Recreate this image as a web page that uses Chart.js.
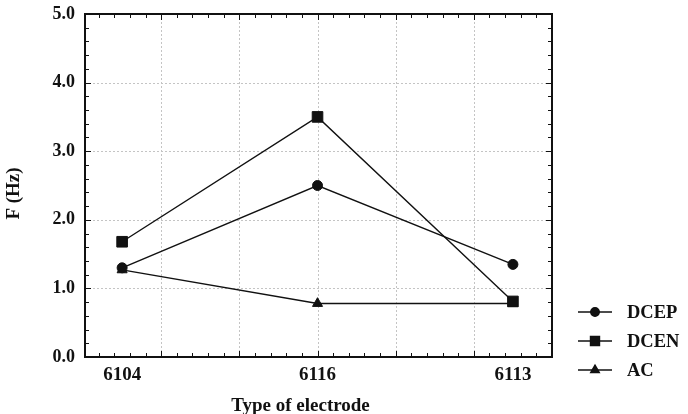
<!DOCTYPE html>
<html>
<head>
<meta charset="utf-8">
<script src="https://cdn.jsdelivr.net/npm/chart.js@4.4.0/dist/chart.umd.min.js"></script>
<style>
  html, body { margin: 0; padding: 0; background: #fff; }
  #wrap { width: 688px; height: 414px; }
</style>
</head>
<body>
<div id="wrap"><canvas id="graph"></canvas></div>
<script>
/* data */
var categories = ['6104', '6116', '6113'];
var seriesNames = ['DCEP', 'DCEN', 'AC'];
var dcep = [1.30, 2.50, 1.35];
var dcen = [1.68, 3.50, 0.81];
var ac = [1.27, 0.78, 0.78];
var yTickValues = [0, 1, 2, 3, 4, 5];
var xGridValues = [0.2, 0.6, 1.0, 1.4, 1.8];
var xTitle = 'Type of electrode';
var yTitle = 'F (Hz)';

var serif = "'Liberation Serif', 'Times New Roman', serif";
var ink = '#111';

function toPoints(values) {
	return values.map(function(v, i) {
		return { x: i, y: v };
	});
}

function makeSet(label, values, style, radius) {
	return {
		label: label,
		data: toPoints(values),
		borderColor: ink,
		backgroundColor: ink,
		borderWidth: 1.4,
		pointStyle: style,
		pointRadius: radius,
		pointHoverRadius: radius,
		pointBorderWidth: 1,
		tension: 0
	};
}

/* dotted grid, inner ticks, frame, axis titles and legend */
var framePlugin = {
	id: 'framePlugin',
	beforeDatasetsDraw: function(chart) {
		var ctx = chart.ctx, a = chart.chartArea;
		var xs = chart.scales.x, ys = chart.scales.y;
		ctx.save();
		ctx.strokeStyle = '#c4c4c4';
		ctx.lineWidth = 1;
		ctx.setLineDash([2, 2]);
		xGridValues.forEach(function(v) {
			var px = Math.round(xs.getPixelForValue(v)) + 0.5;
			ctx.beginPath(); ctx.moveTo(px, a.top); ctx.lineTo(px, a.bottom); ctx.stroke();
		});
		yTickValues.slice(1, -1).forEach(function(v) {
			var py = Math.round(ys.getPixelForValue(v)) + 0.5;
			ctx.beginPath(); ctx.moveTo(a.left, py); ctx.lineTo(a.right, py); ctx.stroke();
		});
		ctx.restore();
	},
	afterDraw: function(chart) {
		var ctx = chart.ctx, a = chart.chartArea;
		var xs = chart.scales.x, ys = chart.scales.y;
		ctx.save();
		ctx.strokeStyle = ink;
		ctx.lineWidth = 1;
		// x minor ticks, step 0.08 from 0.2
		for (var k = -10; k <= 40; k++) {
			var v = 0.2 + k * 0.08;
			if (v <= xs.min || v >= xs.max) continue;
			var px = Math.round(xs.getPixelForValue(v)) + 0.5;
			var len = (k % 5 === 0) ? 6 : 4;
			ctx.beginPath();
			ctx.moveTo(px, a.bottom); ctx.lineTo(px, a.bottom - len);
			ctx.moveTo(px, a.top); ctx.lineTo(px, a.top + len);
			ctx.stroke();
		}
		// y minor ticks, step 0.2
		for (var j = 1; j < 25; j++) {
			var py = Math.round(ys.getPixelForValue(j * 0.2)) + 0.5;
			var ylen = (j % 5 === 0) ? 6 : 4;
			ctx.beginPath();
			ctx.moveTo(a.left, py); ctx.lineTo(a.left + ylen, py);
			ctx.moveTo(a.right, py); ctx.lineTo(a.right - ylen, py);
			ctx.stroke();
		}
		ctx.lineWidth = 2;
		ctx.strokeRect(a.left, a.top, a.right - a.left, a.bottom - a.top);

		// axis titles
		ctx.fillStyle = ink;
		ctx.font = 'bold 19px ' + serif;
		ctx.textAlign = 'center';
		ctx.textBaseline = 'middle';
		ctx.fillText(xTitle, (a.left + a.right) / 2 - 18, chart.height - 8);
		ctx.save();
		ctx.translate(14, (a.top + a.bottom) / 2 + 8);
		ctx.rotate(-Math.PI / 2);
		ctx.fillText(yTitle, 0, 0);
		ctx.restore();

		// legend: line + marker + label
		ctx.font = 'bold 18.5px ' + serif;
		ctx.textAlign = 'left';
		chart.data.datasets.forEach(function(ds, i) {
			var ly = a.bottom - 45 + i * 29;
			var lx = a.right + 26;
			ctx.lineWidth = ds.borderWidth;
			ctx.beginPath(); ctx.moveTo(lx, ly); ctx.lineTo(lx + 34, ly); ctx.stroke();
			Chart.helpers.drawPoint(ctx, {
				pointStyle: ds.pointStyle,
				radius: ds.pointRadius * 0.85,
				rotation: 0,
				borderWidth: 1
			}, lx + 17, ly);
			ctx.fill();
			ctx.fillText(seriesNames[i], lx + 49, ly + 1);
		});
		ctx.restore();
	}
};

window.onload = function() {
	var ctx = document.getElementById('graph');
	window.myChart = new Chart(ctx, {
		type: 'line',
		data: {
			datasets: [
				makeSet(seriesNames[0], dcep, 'circle', 5),
				makeSet(seriesNames[1], dcen, 'rect', 7.5),
				makeSet(seriesNames[2], ac, 'triangle', 5.8)
			]
		},
		options: {
			responsive: true,
			maintainAspectRatio: false,
			animation: false,
			layout: { padding: { top: 14, right: 136, left: 0, bottom: 0 } },
			plugins: {
				legend: { display: false },
				tooltip: { enabled: false }
			},
			scales: {
				x: {
					type: 'linear',
					min: -0.19,
					max: 2.2,
					afterBuildTicks: function(axis) {
						axis.ticks = categories.map(function(c, i) { return { value: i }; });
					},
					afterFit: function(axis) {
						axis.height = 57;
						axis.paddingLeft = 0;
						axis.paddingRight = 0;
					},
					ticks: {
						padding: 7,
						color: ink,
						font: { family: serif, size: 19, weight: 'bold' },
						callback: function(v) { return categories[v]; }
					},
					grid: { display: false, drawTicks: false },
					border: { display: false }
				},
				y: {
					min: 0,
					max: 5,
					afterBuildTicks: function(axis) {
						axis.ticks = yTickValues.map(function(v) { return { value: v }; });
					},
					afterFit: function(axis) {
						axis.width = 85;
						axis.paddingTop = 0;
						axis.paddingBottom = 0;
					},
					ticks: {
						padding: 10,
						color: ink,
						font: { family: serif, size: 18, weight: 'bold' },
						callback: function(v) { return v.toFixed(1); }
					},
					grid: { display: false, drawTicks: false },
					border: { display: false }
				}
			}
		},
		plugins: [framePlugin]
	});
};
</script>
</body>
</html>
